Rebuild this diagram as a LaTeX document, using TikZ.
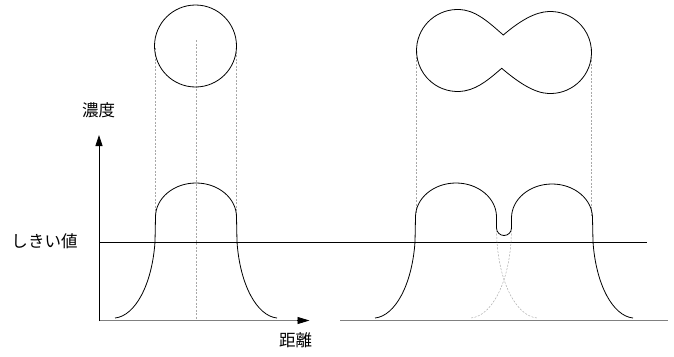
\documentclass[tikz,border=0pt]{standalone}
\usepackage{fontspec}
\newfontfamily\jpfont{Noto Sans CJK JP}
\usetikzlibrary{arrows.meta,calc}
\definecolor{axisgray}{HTML}{808080}
\definecolor{projgray}{HTML}{A8A8A8}
\tikzset{
  curve/.style={line width=0.8pt,black},
  proj/.style={line width=0.5pt,projgray,dash pattern=on 2pt off 1.5pt},
  lbl/.style={inner sep=0pt,font=\jpfont\fontsize{16.5}{18}\selectfont},
  base/.style={line width=1.4pt,axisgray},
}
\begin{document}
\begin{tikzpicture}[x=1pt,y=1pt]
\useasboundingbox (0,-356) rectangle (674,0);
% labels
\node[lbl] (conc) at (98.5,-110.5) {濃度};
\node[lbl] (thr) at (44.5,-241) {しきい値};
\node[lbl] (dist) at (295.5,-340) {距離};
% baselines
\coordinate (O) at (99,-320.5);
\coordinate (Xend) at (309.5,-320.5);
\coordinate (Ytop) at (99,-135);
\draw[base] (O) -- (297,-320.5);
\draw[line width=0.8pt,-{Triangle[length=12pt,width=7pt]}] (297,-320.5) -- (Xend);
\draw[line width=0.8pt,-{Triangle[length=11pt,width=7pt]}] (99,-321) -- (Ytop);
\draw[base] (340,-320.5) -- (668,-320.5);
% threshold
\draw[line width=0.8pt] (99,-242) -- (647,-242);
% projections
\draw[proj] (155.5,-48) -- (155.5,-217);
\draw[proj] (196,-40) -- (196,-320);
\draw[proj] (236.5,-48) -- (236.5,-217);
\draw[proj] (416.5,-53) -- (416.5,-214);
\draw[proj] (591.5,-53) -- (591.5,-216);
% single circle
\draw[curve] (195.5,-46) circle[radius=41];
% peanut shape
\coordinate (L) at (457.5,-50.5);
\coordinate (R) at (550.5,-52.5);
\draw[curve] (503.3,-35) .. controls (493.3,-26.5) and (479.4,-12.7) .. ($(L)+(80:41)$)
  arc[start angle=80,end angle=280,radius=41]
  .. controls (479.4,-88.3) and (491.7,-76.8) .. (501.7,-68.3)
  .. controls (511.7,-76.8) and (528.6,-90.3) .. ($(R)+(260:41)$)
  arc[start angle=260,end angle=460,radius=41]
  .. controls (528.6,-14.7) and (513.3,-26.5) .. cycle;
% single hump
\draw[curve] (115,-318) .. controls (135,-316) and (152,-285) .. (155,-242) -- (155.5,-217)
  arc[start angle=180,end angle=0,x radius=40.5,y radius=34] -- (237,-242)
  .. controls (240,-285) and (257,-316) .. (277,-318);
% double hump
\draw[curve] (375,-318) .. controls (395,-316) and (412,-285) .. (415,-242) -- (415.5,-217)
  arc[start angle=180,end angle=0,x radius=40.5,y radius=34] -- (496.5,-228)
  arc[start angle=180,end angle=360,radius=7.5] -- (511.5,-218)
  arc[start angle=180,end angle=0,x radius=40.5,y radius=34] -- (593,-242)
  .. controls (596,-285) and (613,-316) .. (633,-318);
% hidden flanks
\draw[proj] (496.5,-230) -- (497,-242) .. controls (500,-285) and (517,-316) .. (537,-318);
\draw[proj] (511.5,-230) -- (511,-242) .. controls (508,-285) and (491,-316) .. (471,-318);
\end{tikzpicture}
\end{document}
